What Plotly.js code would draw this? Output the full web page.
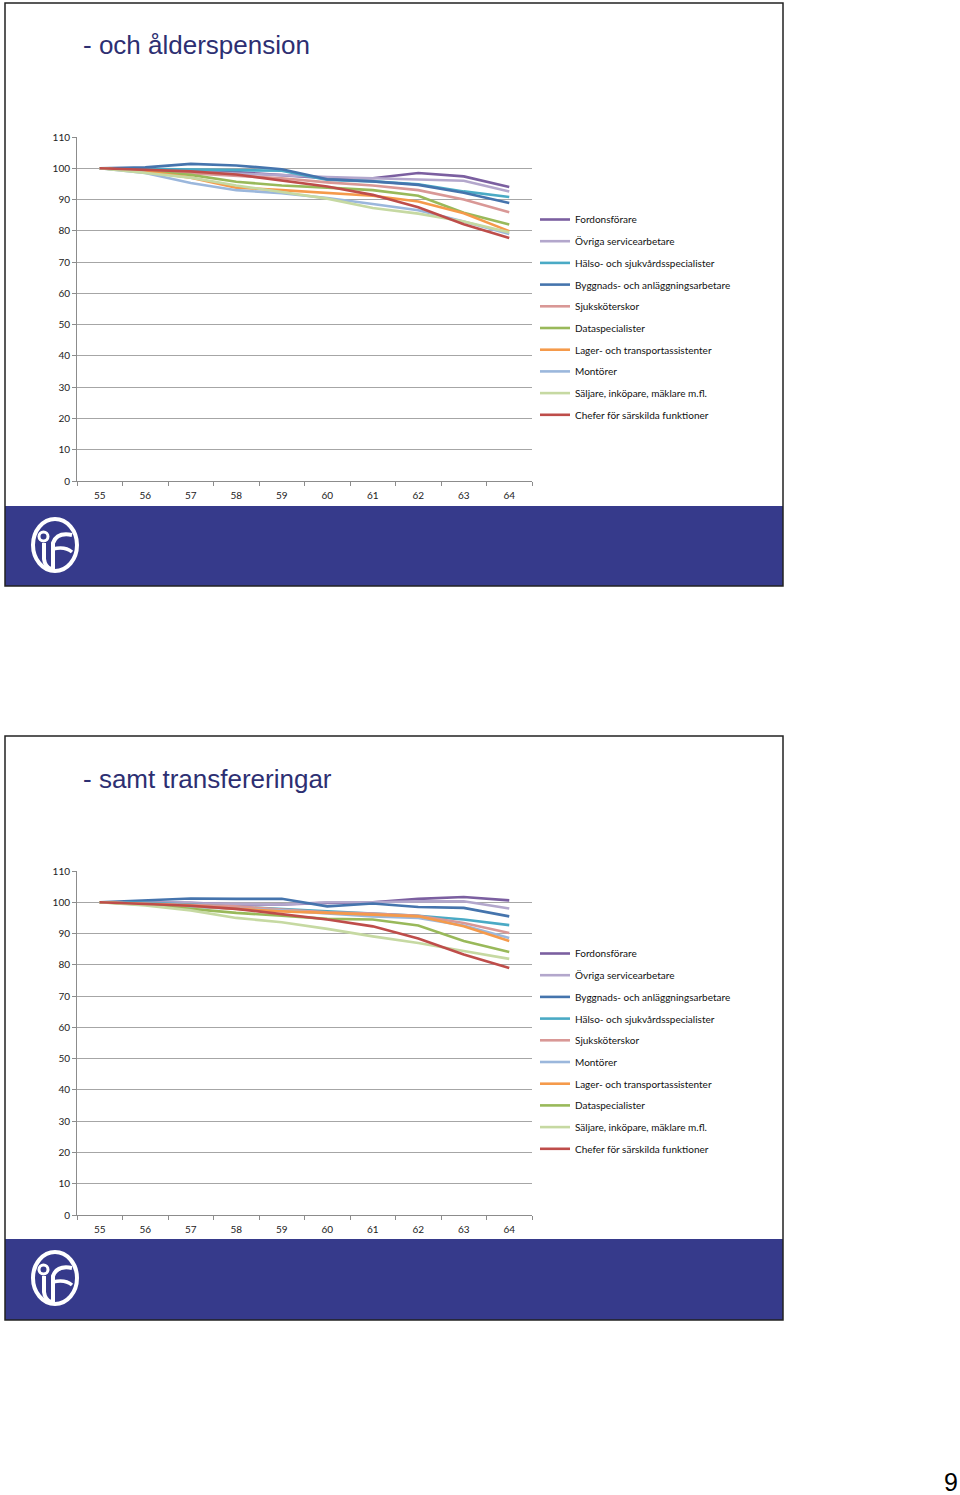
<!DOCTYPE html>
<html>
<head>
<meta charset="utf-8">
<script src="https://cdn.plot.ly/plotly-3.0.1.min.js"></script>
<style>
html,body{margin:0;padding:0;background:#fff;}
#chart{width:960px;height:1495px;}
</style>
</head>
<body>
<div id="chart"></div>
<script>
// ---------- data ----------
const ages = ['55','56','57','58','59','60','61','62','63','64'];
const yTicks = [0,10,20,30,40,50,60,70,80,90,100,110];

const title1 = '- och ålderspension';
const title2 = '- samt transfereringar';
const pageNumber = '9';

// Slide 1: "- och ålderspension" (legend order)
const s1Fordonsforare   = [100, 99.8, 99.2, 98.8, 97.8, 96.8, 96.8, 98.5, 97.4, 94.0];
const s1OvrigaService   = [100, 99.5, 98.8, 98.3, 97.8, 97.2, 96.8, 96.2, 96.0, 92.6];
const s1HalsoSjukvard   = [100, 99.8, 99.6, 99.5, 99.2, 96.3, 95.8, 94.9, 92.6, 90.8];
const s1Byggnads        = [100, 100.3, 101.4, 100.9, 99.7, 96.5, 95.8, 94.7, 92.2, 88.9];
const s1Sjukskoterskor  = [100, 99.2, 98.3, 97.5, 96.8, 95.5, 94.5, 93.0, 90.0, 85.9];
const s1Dataspec        = [100, 99.0, 97.9, 95.7, 94.5, 93.8, 93.0, 91.2, 85.8, 82.0];
const s1Lager           = [100, 99.0, 97.0, 93.8, 93.0, 92.2, 91.2, 89.4, 85.6, 79.9];
const s1Montorer        = [100, 98.5, 95.3, 93.0, 92.0, 90.5, 88.6, 86.6, 83.0, 79.0];
const s1Saljare         = [100, 98.5, 97.0, 94.5, 92.5, 90.3, 87.3, 85.5, 83.0, 79.5];
const s1Chefer          = [100, 99.6, 99.0, 98.0, 96.0, 94.2, 91.5, 87.5, 82.1, 77.7];

// Slide 2: "- samt transfereringar" (legend order)
const s2Fordonsforare   = [100, 99.9, 99.8, 99.3, 99.3, 99.8, 100.0, 101.1, 101.7, 100.6];
const s2OvrigaService   = [100, 99.8, 99.8, 99.6, 99.3, 100.0, 100.0, 100.3, 100.3, 98.0];
const s2Byggnads        = [100, 100.6, 101.2, 101.1, 101.1, 98.7, 99.6, 98.5, 98.2, 95.5];
const s2HalsoSjukvard   = [100, 99.8, 99.3, 98.5, 97.9, 97.1, 96.4, 95.7, 94.5, 92.7];
const s2Sjukskoterskor  = [100, 99.6, 99.3, 98.7, 97.7, 96.8, 96.4, 95.7, 93.4, 90.2];
const s2Montorer        = [100, 99.4, 98.5, 97.9, 97.4, 96.4, 95.5, 95.0, 92.6, 88.6];
const s2Lager           = [100, 99.5, 98.9, 97.9, 97.1, 96.6, 96.1, 95.5, 92.3, 87.6];
const s2Dataspec        = [100, 99.2, 97.9, 96.6, 95.7, 94.7, 94.5, 92.6, 87.6, 84.1];
const s2Saljare         = [100, 99.0, 97.4, 95.0, 93.6, 91.5, 89.1, 87.0, 84.4, 81.9];
const s2Chefer          = [100, 99.5, 98.9, 97.9, 96.1, 94.5, 92.3, 88.4, 83.3, 79.0];

const seriesNames = {
  ford: 'Fordonsförare',
  ovr: 'Övriga servicearbetare',
  hal: 'Hälso- och sjukvårdsspecialister',
  bygg: 'Byggnads- och anläggningsarbetare',
  sjuk: 'Sjuksköterskor',
  data: 'Dataspecialister',
  lager: 'Lager- och transportassistenter',
  mont: 'Montörer',
  salj: 'Säljare, inköpare, mäklare m.fl.',
  chef: 'Chefer för särskilda funktioner'
};
const seriesColors = {
  ford: '#7b5fa0', ovr: '#b3a7cc', hal: '#4aaac5', bygg: '#4574ad',
  sjuk: '#d99896', data: '#99b95a', lager: '#f59a4b', mont: '#9bb7dc',
  salj: '#c6d9a2', chef: '#be4d4a'
};

const slide1 = [
  ['ford', s1Fordonsforare], ['ovr', s1OvrigaService], ['hal', s1HalsoSjukvard],
  ['bygg', s1Byggnads], ['sjuk', s1Sjukskoterskor], ['data', s1Dataspec],
  ['lager', s1Lager], ['mont', s1Montorer], ['salj', s1Saljare], ['chef', s1Chefer]
];
const slide2 = [
  ['ford', s2Fordonsforare], ['ovr', s2OvrigaService], ['bygg', s2Byggnads],
  ['hal', s2HalsoSjukvard], ['sjuk', s2Sjukskoterskor], ['mont', s2Montorer],
  ['lager', s2Lager], ['data', s2Dataspec], ['salj', s2Saljare], ['chef', s2Chefer]
];

// ---------- layout helpers ----------
const W = 960, H = 1495;
const px = x => x / W;
const py = y => 1 - y / H;

const traces = [];
function addSlide(list, xa, ya, legendId, prefix) {
  list.forEach(([key, vals], i) => {
    traces.push({
      type: 'scatter', mode: 'lines',
      x: ages, y: vals, xaxis: xa, yaxis: ya,
      name: seriesNames[key],
      legend: legendId,
      legendgroup: prefix + i,
      line: {color: seriesColors[key], width: 2.6},
      hoverinfo: 'skip'
    });
  });
}
addSlide(slide1, 'x', 'y', 'legend', 'a');
addSlide(slide2, 'x2', 'y2', 'legend2', 'b');

const font = "Lato, 'Open Sans', 'Liberation Sans', sans-serif";
const gridC = '#a6a6a6';
const axisC = '#8c8c8c';

function xAxis(anchor) {
  return {
    type: 'category', anchor: anchor, domain: [px(77), px(532)],
    range: [-0.5, 9.5], showline: true, linecolor: axisC, linewidth: 1,
    ticks: 'outside', tickson: 'boundaries', ticklen: 4, tickcolor: axisC,
    ticklabelstandoff: 5,
    showgrid: false, zeroline: false, fixedrange: true,
    tickfont: {family: font, size: 10, color: '#222'}
  };
}
function yAxis(anchor, top, bottom) {
  return {
    anchor: anchor, domain: [py(bottom), py(top)], range: [0, 110],
    tickvals: yTicks, showline: true, linecolor: axisC, linewidth: 1,
    ticks: 'outside', ticklen: 4, tickcolor: axisC,
    showgrid: true, gridcolor: gridC, gridwidth: 1, zeroline: false,
    fixedrange: true, tickfont: {family: font, size: 10, color: '#222'}
  };
}
function legendCfg(topPx) {
  return {
    x: px(535), xanchor: 'left', y: py(topPx), yanchor: 'top',
    bgcolor: 'rgba(0,0,0,0)', borderwidth: 0,
    font: {family: font, size: 10, color: '#111'},
    traceorder: 'grouped', tracegroupgap: 2.7, itemwidth: 30
  };
}

const navy = '#363a8b';
function logoShapes(cx, cy) {
  const r = 26;
  return [
    {type: 'circle', xref: 'paper', yref: 'paper',
     x0: px(cx - 22), x1: px(cx + 22), y0: py(cy + r), y1: py(cy - r),
     line: {color: '#fff', width: 4}, fillcolor: 'rgba(0,0,0,0)'},
    {type: 'circle', xref: 'paper', yref: 'paper',
     x0: px(cx - 16), x1: px(cx - 7), y0: py(cy - 4), y1: py(cy - 13),
     line: {color: '#fff', width: 3}, fillcolor: 'rgba(0,0,0,0)'},
    {type: 'path', xref: 'paper', yref: 'paper',
     path: `M${px(cx - 11)},${py(cy - 2)} L${px(cx - 11)},${py(cy + 14)} Q${px(cx - 10)},${py(cy + 22)} ${px(cx - 4)},${py(cy + 24)}`,
     line: {color: '#fff', width: 4}},
    {type: 'path', xref: 'paper', yref: 'paper',
     path: `M${px(cx - 2)},${py(cy + 24)} L${px(cx - 2)},${py(cy - 2)} Q${px(cx + 2)},${py(cy - 13)} ${px(cx + 17)},${py(cy - 10)}`,
     line: {color: '#fff', width: 4}},
    {type: 'path', xref: 'paper', yref: 'paper',
     path: `M${px(cx - 2)},${py(cy + 4)} Q${px(cx + 10)},${py(cy + 1)} ${px(cx + 17)},${py(cy + 7)}`,
     line: {color: '#fff', width: 3.5}}
  ];
}

function slideShapes(top, bottom, bandTop) {
  return [
    {type: 'rect', xref: 'paper', yref: 'paper', layer: 'below',
     x0: px(5), x1: px(783), y0: py(bandTop), y1: py(bottom),
     fillcolor: navy, line: {width: 0}},
    {type: 'rect', xref: 'paper', yref: 'paper',
     x0: px(5), x1: px(783), y0: py(bottom), y1: py(top),
     fillcolor: 'rgba(0,0,0,0)', line: {color: '#222', width: 1.5}}
  ];
}

const titleFont = {family: "'Liberation Sans', Arial, sans-serif", size: 26, color: '#2d2f72'};

const layout = {
  width: W, height: H,
  margin: {l: 0, r: 0, t: 0, b: 0, pad: 0},
  paper_bgcolor: '#fff', plot_bgcolor: 'rgba(0,0,0,0)',
  showlegend: true,
  xaxis: xAxis('y'),
  yaxis: yAxis('x', 137, 481),
  xaxis2: xAxis('y2'),
  yaxis2: yAxis('x2', 871, 1215),
  legend: legendCfg(205),
  legend2: legendCfg(939),
  shapes: [].concat(
    slideShapes(3, 586, 506), logoShapes(55, 545),
    slideShapes(736, 1320, 1239), logoShapes(55, 1278)
  ),
  annotations: [
    {xref: 'paper', yref: 'paper', x: px(81), y: py(45), xanchor: 'left', yanchor: 'middle',
     text: title1, showarrow: false, font: titleFont},
    {xref: 'paper', yref: 'paper', x: px(81), y: py(779), xanchor: 'left', yanchor: 'middle',
     text: title2, showarrow: false, font: titleFont},
    {xref: 'paper', yref: 'paper', x: px(951), y: py(1482), xanchor: 'center', yanchor: 'middle',
     text: pageNumber, showarrow: false,
     font: {family: "'Liberation Sans', Arial, sans-serif", size: 25, color: '#000'}}
  ]
};

Plotly.newPlot('chart', traces, layout, {displayModeBar: false, staticPlot: true});
</script>
</body>
</html>
